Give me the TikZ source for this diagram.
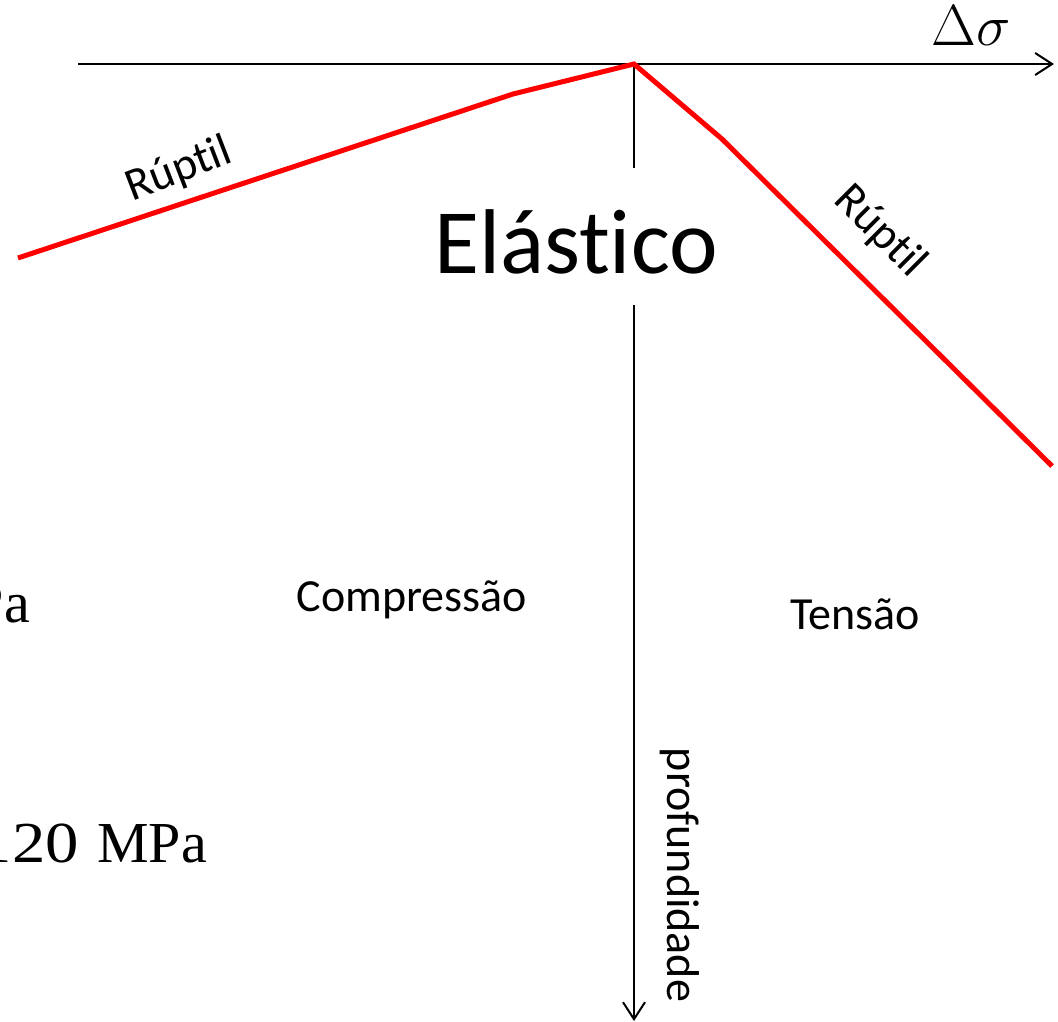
\RequirePackage{fix-cm}
\documentclass[tikz,border=0pt]{standalone}
\usepackage{fontspec}
\setmainfont{Carlito}[Ligatures=NoCommon]
\newfontfamily\mpafont{Liberation Serif}
\usetikzlibrary{arrows.meta}
\begin{document}
\begin{tikzpicture}[x=1pt,y=-1pt,
  axisline/.style={line width=2pt},
  axisarrow/.style={line width=2pt,-{Straight Barb[length=17pt,width=22pt,line width=2pt]}},
  redline/.style={red,line width=5pt,line join=miter},
  lbl/.style={inner sep=0pt,font=\fontsize{46}{50}\selectfont},
  mpa/.style={inner sep=0pt,anchor=base east,font=\mpafont\fontsize{58}{62}\selectfont}]
\useasboundingbox (0,0) rectangle (1058,1021);
\clip (0,0) rectangle (1058,1021);
% coordinates
\coordinate (xs) at (78,64);
\coordinate (xe) at (1054,64);
\coordinate (o) at (634,64);
\coordinate (vt) at (634,168);
\coordinate (vb) at (634,305);
\coordinate (ve) at (634,1021);
\coordinate (l0) at (18,258);
\coordinate (l1) at (513,94);
\coordinate (r1) at (722,139);
\coordinate (r2) at (1052,466);
% axes
\draw[axisarrow] (xs) -- (xe);
\draw[axisline] (o) -- (vt);
\draw[axisarrow] (vb) -- (ve);
% red curves
\draw[redline] (l0) -- (l1) -- (o) -- (r1) -- (r2);
% labels
\node[inner sep=0pt,font=\fontsize{58}{60}\selectfont] (ds) at (971,26) {$\Delta\sigma$};
\node[lbl,rotate=21] (rl) at (179,170) {Rúpt\kern0pt il};
\node[lbl,rotate=-45] (rr) at (880,232) {Rúpt\kern0pt il};
\node[inner sep=0pt,font=\fontsize{92}{96}\selectfont] (el) at (576,242) {Elást\kern0pt ico};
\node[lbl] (cp) at (412,600) {Compressão};
\node[lbl] (ts) at (855,614) {Tensão};
\node[lbl,rotate=-90] (pf) at (680,875) {profundidade};
\node[mpa] (m1) at (30,622) {Pa};
\node[mpa] (m2) at (207,862) {\scalebox{1.15}[1]{120} \kern4pt MPa};
\end{tikzpicture}
\end{document}
